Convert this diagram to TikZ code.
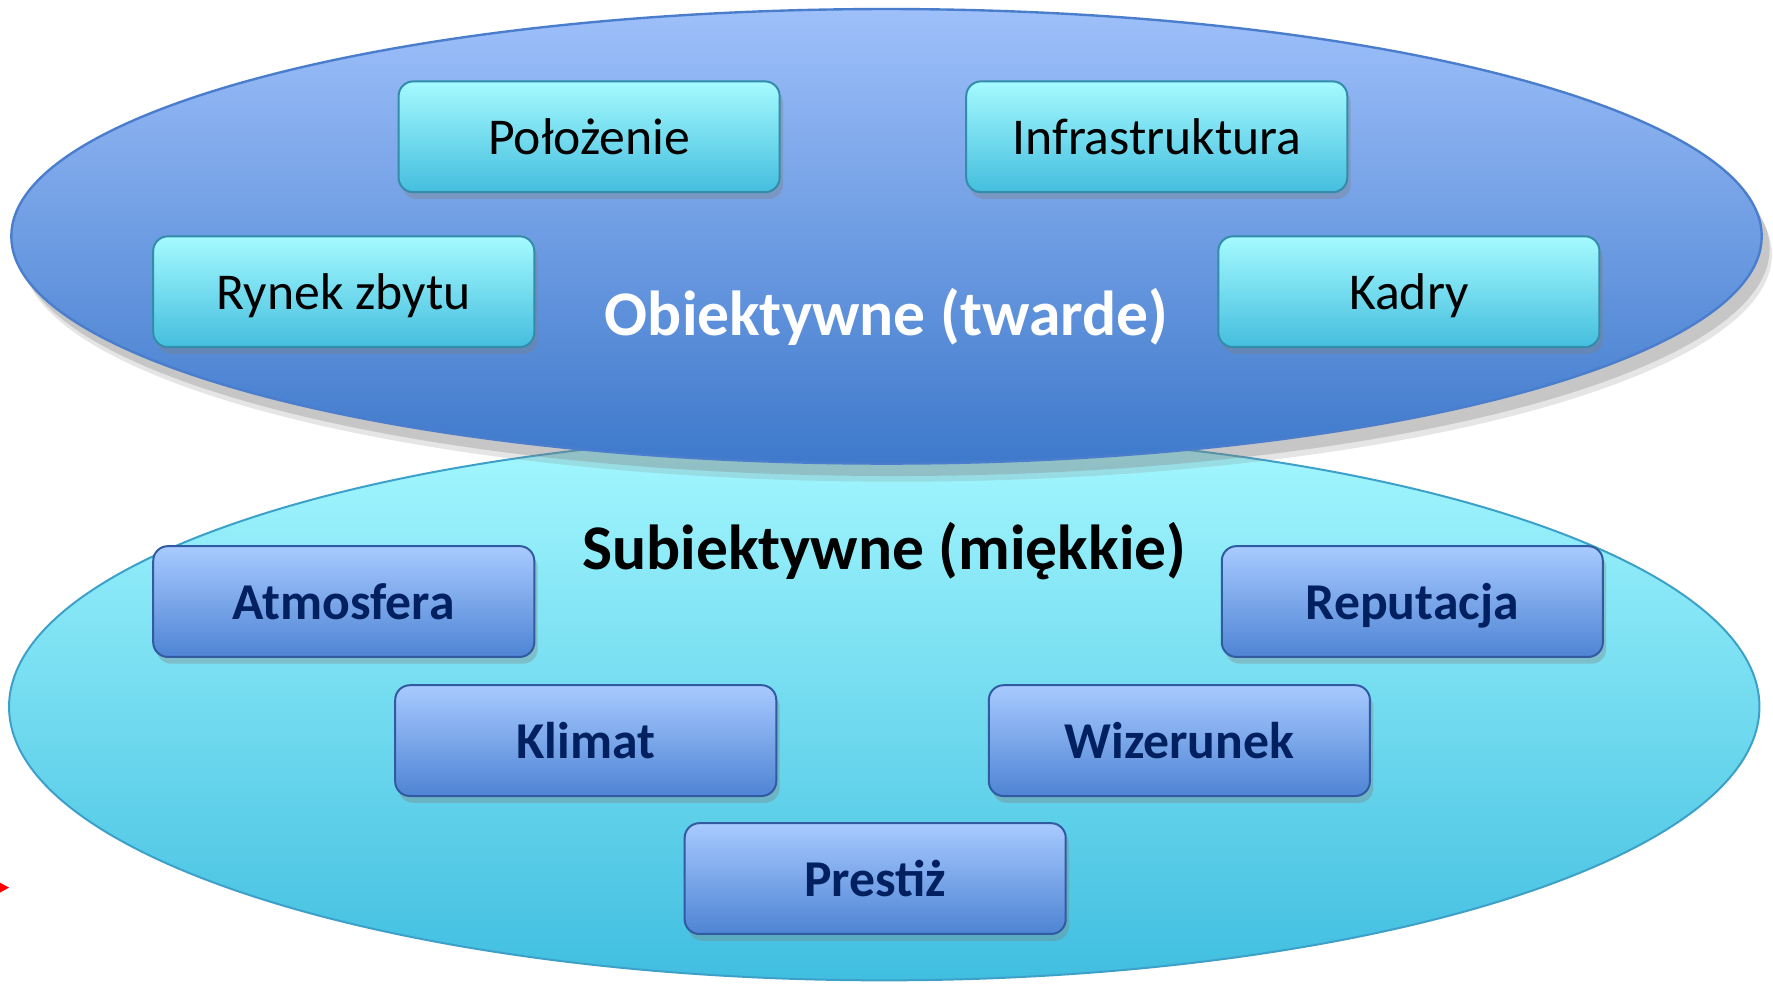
\documentclass[tikz,border=0pt]{standalone}
\usepackage{fontspec}
\setmainfont{Carlito}
\definecolor{hardTop}{RGB}{158, 192, 250}
\definecolor{hardBottom}{RGB}{62, 121, 203}
\definecolor{hardEdge}{RGB}{74, 126, 205}
\definecolor{softTop}{RGB}{165, 248, 255}
\definecolor{softBottom}{RGB}{64, 190, 224}
\definecolor{softEdge}{RGB}{60, 160, 200}
\definecolor{cyanTop}{RGB}{165, 250, 255}
\definecolor{cyanBottom}{RGB}{68, 190, 222}
\definecolor{cyanEdge}{RGB}{50, 140, 170}
\definecolor{blueTop}{RGB}{168, 202, 255}
\definecolor{blueBottom}{RGB}{78, 132, 212}
\definecolor{blueEdge}{RGB}{50, 90, 160}
\definecolor{navyText}{RGB}{0, 32, 96}
\usepackage{tikz}
\usetikzlibrary{shapes,positioning,calc,shadows,backgrounds}

\begin{document}
\begin{tikzpicture}[
    hardbox/.style={rectangle,rounded corners=1.3mm,minimum width=3.37cm,minimum height=0.98cm,
        text height=4mm,text depth=0.8mm,
        top color=cyanTop,bottom color=cyanBottom,draw=cyanEdge,line width=0.5pt,
        font=\fontsize{13}{15}\selectfont,text=black,
        drop shadow={shadow xshift=0.3mm,shadow yshift=-0.6mm,opacity=0.35}},
    softbox/.style={rectangle,rounded corners=1.3mm,minimum width=3.37cm,minimum height=0.98cm,
        text height=4mm,text depth=0.8mm,
        top color=blueTop,bottom color=blueBottom,draw=blueEdge,line width=0.5pt,
        font=\fontsize{13}{15}\selectfont\bfseries,text=navyText,
        drop shadow={shadow xshift=0.3mm,shadow yshift=-0.6mm,opacity=0.35}},
    grouptitle/.style={font=\fontsize{16}{19}\selectfont\bfseries}
]
\useasboundingbox (0,0) rectangle (15.68,8.72);
\fill[white] (0,0) rectangle (15.68,8.72);

% Subiektywne (miekkie) - lower ellipse
\node[ellipse,minimum width=15.48cm,minimum height=4.84cm,inner sep=0pt,
      top color=softTop,bottom color=softBottom,draw=softEdge,line width=0.5pt]
      (soft) at (7.82,2.47) {};
% Obiektywne (twarde) - upper ellipse
\node[ellipse,minimum width=15.48cm,minimum height=4.02cm,inner sep=0pt,
      top color=hardTop,bottom color=hardBottom,draw=hardEdge,line width=0.6pt,
      drop shadow={shadow xshift=0.9mm,shadow yshift=-1.6mm,opacity=0.2},
      drop shadow={shadow xshift=0.7mm,shadow yshift=-1.1mm,opacity=0.3}]
      (hard) at (7.84,6.63) {};

% hard factors
\node[hardbox] (polozenie) at (5.21,7.51) {Położenie};
\node[hardbox] (infra) at (10.23,7.51) {Infrastruktura};
\node[hardbox] (rynek) at (3.04,6.14) {Rynek zbytu};
\node[hardbox] (kadry) at (12.46,6.14) {Kadry};
\node[grouptitle,text=white] (hardTitle) at (7.84,5.92) {Obiektywne (twarde)};

% soft factors
\node[grouptitle,text=black] (softTitle) at (7.82,3.85) {Subiektywne (miękkie)};
\node[softbox] (atmosfera) at (3.04,3.40) {Atmosfera};
\node[softbox] (reputacja) at (12.49,3.40) {Reputacja};
\node[softbox] (klimat) at (5.18,2.17) {Klimat};
\node[softbox] (wizerunek) at (10.43,2.17) {Wizerunek};
\node[softbox] (prestiz) at (7.74,0.95) {Prestiż};

% red marker at the left edge
\fill[red] (-0.03,0.93) -- (0.08,0.87) -- (-0.03,0.81) -- cycle;
\end{tikzpicture}
\end{document}
